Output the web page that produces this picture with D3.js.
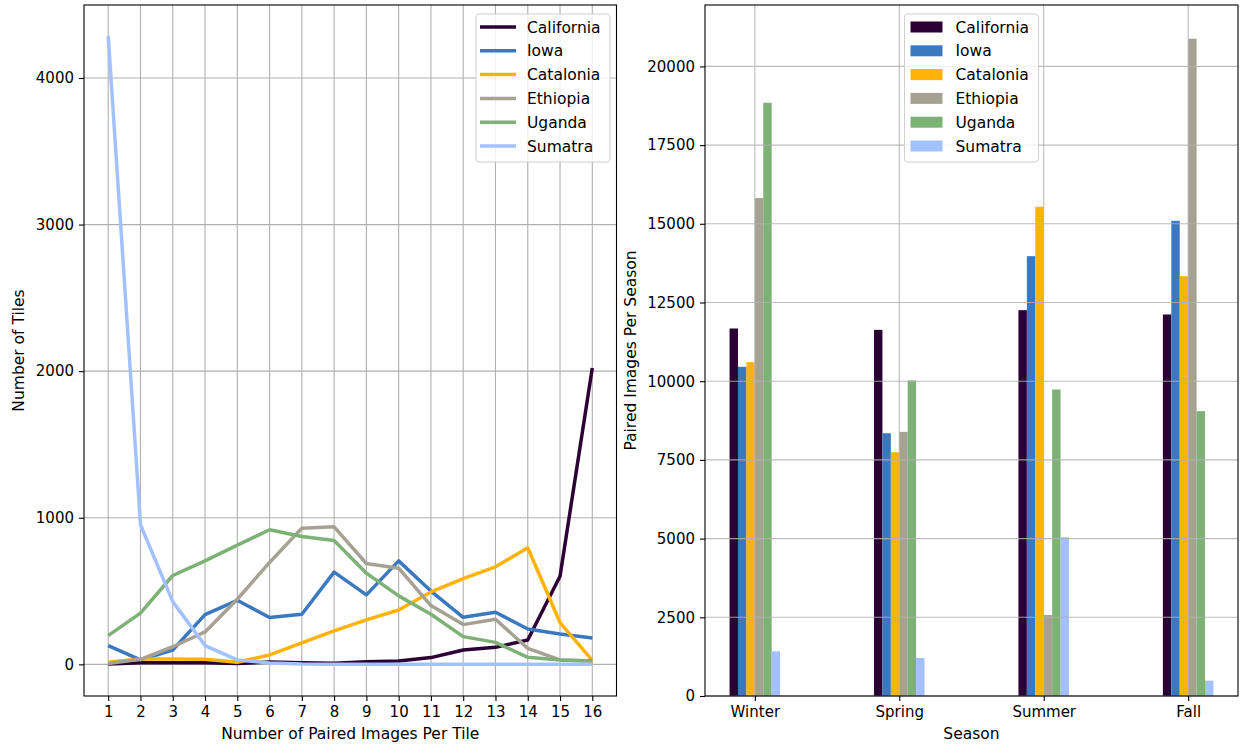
<!DOCTYPE html>
<html lang="en">
<head>
  <meta charset="UTF-8">
  <title>Paired images</title>
  <style>
    body { margin: 0; background: #fff; }
    text { font-family: "DejaVu Sans", sans-serif; fill: #000; }
  </style>
</head>
<body>
  <script src="https://cdn.jsdelivr.net/npm/d3@7"></script>
  <script>
    // data
    const regions = ['California', 'Iowa', 'Catalonia', 'Ethiopia', 'Uganda', 'Sumatra'];
    const colors = ['#2b0135', '#3a79c0', '#ffb30a', '#a6a293', '#7db175', '#a3c1ff'];
    const pairCounts = [1, 2, 3, 4, 5, 6, 7, 8, 9, 10, 11, 12, 13, 14, 15, 16];

    const california = [2, 10, 10, 10, 5, 16, 10, 8, 18, 22, 46, 98, 116, 166, 601, 2021];
    const iowa = [128, 30, 98, 339, 437, 319, 342, 629, 474, 706, 500, 321, 355, 241, 207, 180];
    const catalonia = [14, 36, 36, 34, 14, 64, 146, 228, 303, 371, 494, 585, 665, 795, 285, 27];
    const ethiopia = [5, 34, 120, 221, 444, 695, 929, 938, 688, 656, 401, 271, 308, 109, 30, 23];
    const uganda = [196, 349, 606, 706, 813, 918, 872, 845, 622, 467, 342, 189, 150, 48, 30, 23];
    const sumatra = [4286, 952, 428, 128, 30, 9, 2, 1, 1, 1, 1, 1, 1, 1, 1, 1];

    const seasons = ['Winter', 'Spring', 'Summer', 'Fall'];
    const seasonCalifornia = [11674, 11631, 12256, 12119];
    const seasonIowa = [10456, 8347, 13972, 15095];
    const seasonCatalonia = [10604, 7744, 15540, 13337];
    const seasonEthiopia = [15816, 8390, 2574, 20879];
    const seasonUganda = [18845, 10021, 9735, 9047];
    const seasonSumatra = [1419, 1208, 5042, 487];

    const tileTicks = [0, 1000, 2000, 3000, 4000];
    const seasonTicks = [0, 2500, 5000, 7500, 10000, 12500, 15000, 17500, 20000];

    const lineSeries = [california, iowa, catalonia, ethiopia, uganda, sumatra];
    const barSeries = [seasonCalifornia, seasonIowa, seasonCatalonia, seasonEthiopia, seasonUganda, seasonSumatra];

    const W = 1241, H = 744;
    const plotTop = 5, plotBottom = 696;
    const box1 = { x0: 84, x1: 616.5 };
    const box2 = { x0: 705, x1: 1238 };
    const tickFont = '15px';
    const labelFont = '15.5px';
    const gridColor = '#b0b0b0';

    const svg = d3.select('body')
      .append('svg')
      .attr('width', W)
      .attr('height', H);

    function styleAxis(g) {
      g.selectAll('.domain').remove();
      g.selectAll('.tick line').attr('stroke', '#000').attr('stroke-width', 1.1);
      g.selectAll('.tick text').style('font-size', tickFont);
    }

    function drawLegend(x, y, w, kind) {
      const lg = svg.append('g').attr('transform', `translate(${x}, ${y})`);
      lg.append('rect')
        .attr('width', w)
        .attr('height', 148)
        .attr('rx', 3)
        .attr('fill', 'rgba(255,255,255,0.8)')
        .attr('stroke', '#d0d0d0')
        .attr('stroke-width', 1);
      regions.forEach((r, i) => {
        const cy = 13 + i * 23.8;
        if (kind === 'line') {
          lg.append('line')
            .attr('x1', 4).attr('x2', 40)
            .attr('y1', cy).attr('y2', cy)
            .attr('stroke', colors[i])
            .attr('stroke-width', 3.5);
        } else {
          lg.append('rect')
            .attr('x', 6).attr('y', cy - 5.5)
            .attr('width', 32).attr('height', 11)
            .attr('fill', colors[i]);
        }
        lg.append('text')
          .attr('x', 51)
          .attr('y', cy)
          .attr('dy', '0.36em')
          .style('font-size', labelFont)
          .text(r);
      });
    }

    // ---------- left: line chart ----------
    const x1 = d3.scaleLinear().domain([0.25, 16.75]).range([box1.x0, box1.x1]);
    const y1 = d3.scaleLinear().domain([-216, 4498]).range([plotBottom, plotTop]);

    const grid1 = svg.append('g');
    grid1.selectAll('line.v')
      .data(pairCounts)
      .join('line')
      .attr('class', 'v')
      .attr('x1', d => x1(d)).attr('x2', d => x1(d))
      .attr('y1', plotTop).attr('y2', plotBottom)
      .attr('stroke', gridColor).attr('stroke-width', 1.1);
    grid1.selectAll('line.h')
      .data(tileTicks)
      .join('line')
      .attr('class', 'h')
      .attr('x1', box1.x0).attr('x2', box1.x1)
      .attr('y1', d => y1(d)).attr('y2', d => y1(d))
      .attr('stroke', gridColor).attr('stroke-width', 1.1);

    const line = d3.line()
      .x((d, i) => x1(pairCounts[i]))
      .y(d => y1(d));

    lineSeries.forEach((s, i) => {
      svg.append('path')
        .datum(s)
        .attr('fill', 'none')
        .attr('stroke', colors[i])
        .attr('stroke-width', 3.5)
        .attr('stroke-linejoin', 'round')
        .attr('d', line);
    });

    svg.append('rect')
      .attr('x', box1.x0).attr('y', plotTop)
      .attr('width', box1.x1 - box1.x0).attr('height', plotBottom - plotTop)
      .attr('fill', 'none').attr('stroke', '#000').attr('stroke-width', 1.1);

    svg.append('g')
      .attr('transform', `translate(0, ${plotBottom})`)
      .call(d3.axisBottom(x1).tickValues(pairCounts).tickFormat(d3.format('d')).tickSizeOuter(0).tickSize(5).tickPadding(5))
      .call(styleAxis);

    svg.append('g')
      .attr('transform', `translate(${box1.x0}, 0)`)
      .call(d3.axisLeft(y1).tickValues(tileTicks).tickFormat(d3.format('d')).tickSizeOuter(0).tickSize(5).tickPadding(5))
      .call(styleAxis);

    svg.append('text')
      .attr('x', (box1.x0 + box1.x1) / 2)
      .attr('y', 739)
      .attr('text-anchor', 'middle')
      .style('font-size', labelFont)
      .text('Number of Paired Images Per Tile');

    svg.append('text')
      .attr('transform', `translate(24, ${(plotTop + plotBottom) / 2}) rotate(-90)`)
      .attr('text-anchor', 'middle')
      .style('font-size', labelFont)
      .text('Number of Tiles');

    drawLegend(476, 14, 134, 'line');

    // ---------- right: grouped bars ----------
    const x2 = d3.scaleLinear().domain([-0.345, 3.345]).range([box2.x0, box2.x1]);
    const inner = d3.scaleBand().domain(regions).range([-0.175, 0.175]);
    const y2 = d3.scaleLinear().domain([0, 21950]).range([plotBottom, plotTop]);

    regions.forEach((r, i) => {
      svg.append('g')
        .selectAll('rect')
        .data(barSeries[i])
        .join('rect')
        .attr('x', (d, j) => x2(j + inner(r)))
        .attr('width', x2(inner.bandwidth()) - x2(0))
        .attr('y', d => y2(d))
        .attr('height', d => y2(0) - y2(d))
        .attr('fill', colors[i]);
    });

    const grid2 = svg.append('g');
    grid2.selectAll('line.v')
      .data(seasons)
      .join('line')
      .attr('class', 'v')
      .attr('x1', (d, i) => x2(i)).attr('x2', (d, i) => x2(i))
      .attr('y1', plotTop).attr('y2', plotBottom)
      .attr('stroke', gridColor).attr('stroke-width', 1.1).attr('stroke-opacity', 0.85);
    grid2.selectAll('line.h')
      .data(seasonTicks)
      .join('line')
      .attr('class', 'h')
      .attr('x1', box2.x0).attr('x2', box2.x1)
      .attr('y1', d => y2(d)).attr('y2', d => y2(d))
      .attr('stroke', gridColor).attr('stroke-width', 1.1).attr('stroke-opacity', 0.85);

    svg.append('rect')
      .attr('x', box2.x0).attr('y', plotTop)
      .attr('width', box2.x1 - box2.x0).attr('height', plotBottom - plotTop)
      .attr('fill', 'none').attr('stroke', '#000').attr('stroke-width', 1.1);

    svg.append('g')
      .attr('transform', `translate(0, ${plotBottom})`)
      .call(d3.axisBottom(x2).tickValues([0, 1, 2, 3]).tickFormat(i => seasons[i]).tickSizeOuter(0).tickSize(5).tickPadding(5))
      .call(styleAxis);

    svg.append('g')
      .attr('transform', `translate(${box2.x0}, 0)`)
      .call(d3.axisLeft(y2).tickValues(seasonTicks).tickFormat(d3.format('d')).tickSizeOuter(0).tickSize(5).tickPadding(5))
      .call(styleAxis);

    svg.append('text')
      .attr('x', (box2.x0 + box2.x1) / 2)
      .attr('y', 739)
      .attr('text-anchor', 'middle')
      .style('font-size', labelFont)
      .text('Season');

    svg.append('text')
      .attr('transform', `translate(636, ${(plotTop + plotBottom) / 2}) rotate(-90)`)
      .attr('text-anchor', 'middle')
      .style('font-size', labelFont)
      .text('Paired Images Per Season');

    drawLegend(904.5, 14, 134, 'bar');
  </script>
</body>
</html>
